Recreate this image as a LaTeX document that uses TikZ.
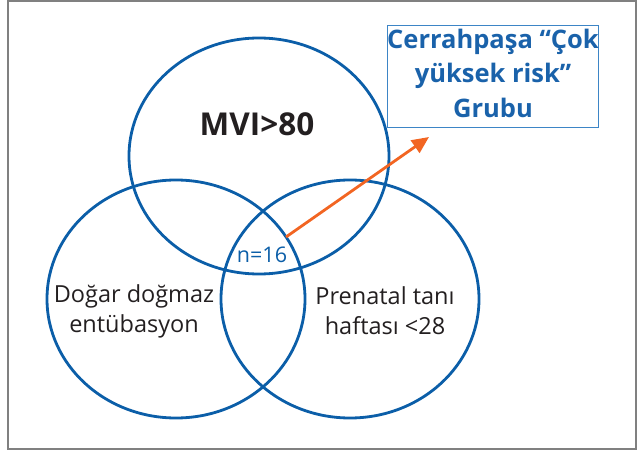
\documentclass[tikz,border=0pt]{standalone}
\usepackage{fontspec}
\setmainfont{Open Sans}
\usetikzlibrary{shapes.geometric,arrows.meta}
\definecolor{vblue}{HTML}{0B5EA8}
\definecolor{boxblue}{HTML}{3D85C6}
\definecolor{txtblue}{HTML}{1A62AA}
\definecolor{arrorange}{HTML}{F26522}
\definecolor{txtdark}{HTML}{231F20}
\definecolor{framegray}{HTML}{808080}
\begin{document}
\begin{tikzpicture}[x=1pt,y=-1pt,
  venn/.style={draw=vblue, line width=2.8pt, ellipse, inner sep=0pt, minimum width=258pt, minimum height=238pt},
  lbl/.style={text=txtdark, font=\fontsize{23.5}{30}\selectfont, align=center, inner sep=0pt},
  biglbl/.style={text=txtdark, font=\bfseries\fontsize{31.5}{36}\selectfont, inner sep=0pt},
  nlbl/.style={text=vblue, font=\fontsize{21.5}{24}\selectfont, inner sep=0pt},
  grpbox/.style={draw=boxblue, line width=1pt, text=txtblue, font=\bfseries\fontsize{25.5}{34.5}\selectfont, align=center, minimum width=210pt, minimum height=101pt, inner sep=0pt, text depth=7pt},
  arr/.style={draw=arrorange, line width=2.8pt, -{Triangle[length=17pt,width=15pt]}}
]
\useasboundingbox (0,0) rectangle (643,452);
\draw[framegray, line width=1.2pt] (8,1) rectangle (636,449);

\node[venn, minimum width=260pt, minimum height=236pt] (top) at (259,156) {};
\node[venn] (left) at (176,299) {};
\node[venn] (right) at (350,299) {};

\node[biglbl] (mvi) at (257,124) {MVI>80};
\node[lbl] (ltxt) at (134,311) {Doğar doğmaz\\entübasyon};
\node[lbl] (rtxt) at (385,311) {Prenatal tanı\\haftası <28};
\node[nlbl] (n16) at (262,255) {n=16};

\node[grpbox] (grp) at (493,76.5) {Cerrahpaşa “Çok\\yüksek risk”\\Grubu};

\coordinate (astart) at (286,237);
\coordinate (aend) at (429,137);
\draw[arr] (astart) -- (aend);
\end{tikzpicture}
\end{document}
